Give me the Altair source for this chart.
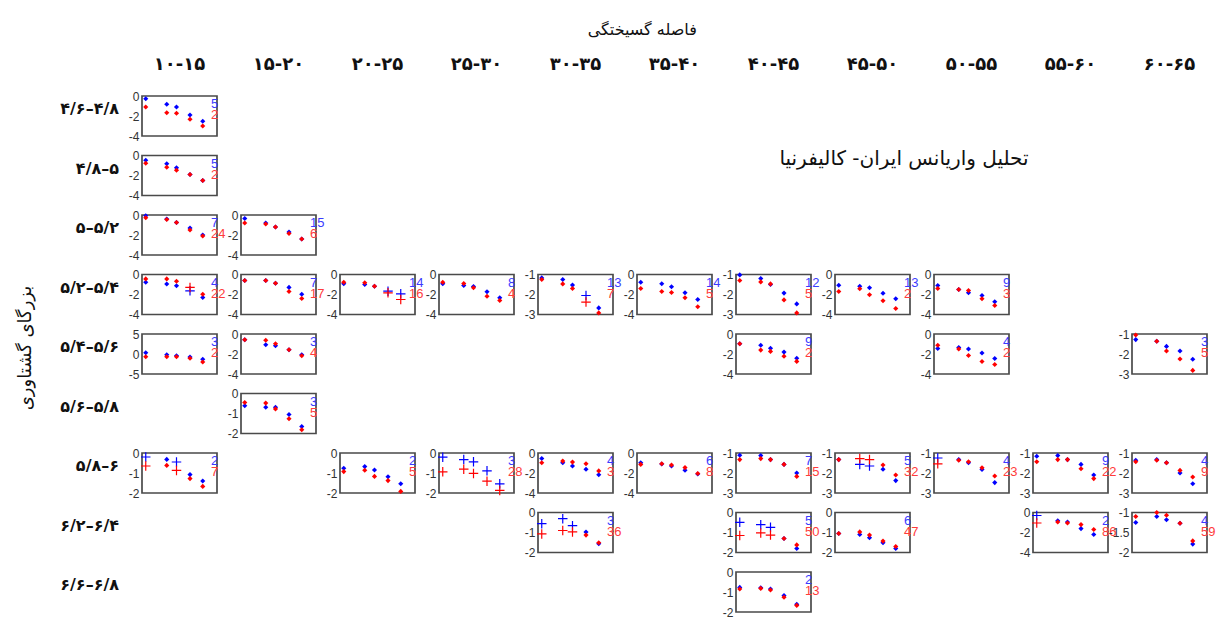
import altair as alt
import pandas as pd

# Rupture-distance bins (columns) and moment-magnitude bins (rows)
DIST_BINS = ["۱۰-۱۵", "۱۵-۲۰", "۲۰-۲۵", "۲۵-۳۰", "۳۰-۳۵", "۳۵-۴۰",
             "۴۰-۴۵", "۴۵-۵۰", "۵۰-۵۵", "۵۵-۶۰", "۶۰-۶۵"]
MAG_BINS = ["۴/۶–۴/۸", "۴/۸–۵", "۵–۵/۲", "۵/۲–۵/۴", "۵/۴–۵/۶",
            "۵/۶–۵/۸", "۵/۸–۶", "۶/۲–۶/۴", "۶/۶–۶/۸"]

# Position of the five spectral ordinates along each panel's x axis
PERIOD_X = [0.05, 0.33, 0.46, 0.64, 0.81]

# Which cell each panel occupies (row index, column index)
PANEL_MAG = [0, 1, 2, 2, 3, 3, 3, 3, 3, 3, 3, 3, 3,
             4, 4, 4, 4, 4, 5, 6, 6, 6, 6, 6, 6, 6, 6, 6, 6,
             7, 7, 7, 7, 7, 8]
PANEL_DIST = [0, 0, 0, 1, 0, 1, 2, 3, 4, 5, 6, 7, 8,
              0, 1, 6, 8, 10, 1, 0, 2, 3, 4, 5, 6, 7, 8, 9, 10,
              4, 6, 7, 9, 10, 6]

# Y-axis extent of every panel
Y_TOP = [0, 0, 0, 0, 0, 0, 0, 0, -1, 0, -1, 0, 0,
         5, 0, 0, 0, -1, 0, 0, 0, 0, 0, 0, -1, -1, -1, -1, -1,
         0, 0, 0, 0, -1, 0]
Y_BOTTOM = [-4, -4, -4, -4, -4, -4, -4, -4, -3, -4, -3, -4, -4,
            -5, -4, -4, -4, -3, -2, -2, -2, -2, -4, -4, -3, -3, -3, -3, -3,
            -2, -2, -2, -4, -2, -2]

# Record counts printed in each panel
N_IRAN = [5, 5, 7, 15, 4, 7, 14, 8, 13, 14, 12, 13, 9,
          3, 3, 9, 4, 3, 3, 2, 2, 3, 4, 6, 7, 5, 4, 9, 4,
          3, 5, 6, 2, 4, 2]
N_CALIF = [2, 2, 24, 6, 22, 17, 16, 4, 7, 5, 5, 2, 3,
           2, 4, 2, 2, 5, 5, 7, 5, 28, 3, 8, 15, 32, 23, 22, 9,
           36, 50, 47, 86, 59, 13]

# Iran series (blue), five values per panel
IRAN = [
    [-0.27, -0.83, -1.10, -1.90, -2.53],
    [-0.47, -0.83, -1.23, -1.90, -2.50],
    [-0.07, -0.40, -0.75, -1.30, -2.00],
    [-0.35, -0.80, -1.20, -1.70, -2.40],
    [-0.78, -0.95, -1.12, -1.63, -2.30],
    [-0.60, -0.60, -0.88, -1.29, -1.97],
    [-0.93, -1.00, -1.17, -1.67, -1.93],
    [-0.93, -1.10, -1.20, -1.73, -2.33],
    [-1.17, -1.25, -1.53, -2.05, -2.67],
    [-0.77, -0.93, -1.23, -1.83, -2.50],
    [-1.02, -1.20, -1.50, -1.93, -2.47],
    [-1.07, -1.17, -1.33, -1.87, -2.43],
    [-1.10, -1.50, -1.83, -2.10, -2.73],
    [0.33, -0.17, -0.42, -0.75, -1.33],
    [-0.57, -1.07, -1.17, -1.57, -2.07],
    [-0.97, -1.13, -1.42, -1.81, -2.42],
    [-1.45, -1.35, -1.50, -1.90, -2.45],
    [-1.28, -1.36, -1.62, -1.85, -2.26],
    [-0.61, -0.69, -0.69, -1.05, -1.65],
    [-0.20, -0.32, -0.45, -1.08, -1.40],
    [-0.76, -0.68, -0.85, -1.19, -1.54],
    [-0.21, -0.33, -0.44, -0.89, -1.54],
    [-0.55, -0.98, -1.30, -1.63, -2.18],
    [-0.98, -1.10, -1.30, -1.72, -2.10],
    [-1.11, -1.13, -1.33, -1.57, -2.00],
    [-1.33, -1.57, -1.65, -1.81, -2.38],
    [-1.25, -1.33, -1.49, -1.82, -2.48],
    [-1.16, -1.13, -1.33, -1.57, -2.10],
    [-1.36, -1.33, -1.49, -2.00, -2.54],
    [-0.56, -0.31, -0.66, -0.98, -1.56],
    [-0.49, -0.61, -0.74, -1.30, -1.80],
    [-1.05, -1.10, -1.26, -1.51, -1.80],
    [-0.30, -0.82, -0.95, -1.61, -2.20],
    [-1.25, -1.10, -1.18, -1.27, -1.79],
    [-0.77, -0.79, -0.85, -1.18, -1.61],
]

# California series (red), five values per panel
CALIF = [
    [-1.10, -1.67, -1.73, -2.33, -3.00],
    [-0.77, -1.17, -1.47, -1.90, -2.50],
    [-0.28, -0.45, -0.75, -1.50, -2.10],
    [-0.80, -0.90, -1.20, -1.85, -2.40],
    [-0.44, -0.44, -0.68, -1.29, -1.97],
    [-0.60, -0.60, -0.88, -1.70, -2.40],
    [-0.77, -0.83, -1.17, -1.83, -2.50],
    [-0.77, -0.90, -1.33, -2.17, -2.60],
    [-1.25, -1.47, -1.70, -2.38, -2.92],
    [-1.40, -1.70, -1.80, -2.33, -3.23],
    [-1.30, -1.37, -1.47, -2.27, -2.92],
    [-1.70, -1.43, -2.03, -2.63, -3.40],
    [-1.40, -1.50, -1.60, -2.43, -3.10],
    [-0.67, -0.67, -0.67, -1.08, -2.00],
    [-0.57, -0.63, -0.97, -1.57, -2.17],
    [-0.97, -1.61, -1.74, -2.23, -2.74],
    [-1.13, -1.50, -2.15, -2.75, -3.05],
    [-1.05, -1.36, -1.85, -2.25, -2.82],
    [-0.45, -0.48, -0.77, -1.26, -1.81],
    [-0.65, -0.62, -0.87, -1.28, -1.67],
    [-0.93, -0.86, -1.17, -1.38, -1.92],
    [-0.94, -0.81, -1.02, -1.41, -1.87],
    [-0.98, -0.81, -0.91, -1.08, -1.79],
    [-1.14, -1.07, -1.20, -1.46, -2.05],
    [-1.33, -1.28, -1.33, -1.57, -2.17],
    [-1.33, -1.28, -1.33, -1.60, -2.10],
    [-1.54, -1.36, -1.44, -1.74, -2.15],
    [-1.44, -1.33, -1.33, -1.79, -2.28],
    [-1.44, -1.36, -1.49, -1.87, -2.20],
    [-1.07, -0.90, -0.97, -1.13, -1.51],
    [-1.15, -1.02, -1.13, -1.30, -1.62],
    [-1.05, -0.97, -1.13, -1.43, -1.70],
    [-1.05, -0.95, -1.05, -1.21, -1.70],
    [-1.10, -1.00, -1.07, -1.27, -1.71],
    [-0.85, -0.82, -0.90, -1.26, -1.67],
]

# 1 where a pair of estimates is drawn with a "+" instead of a dot
CROSS = [
    [0, 0, 0, 0, 0], [0, 0, 0, 0, 0], [0, 0, 0, 0, 0], [0, 0, 0, 0, 0],
    [0, 0, 0, 1, 0], [0, 0, 0, 0, 0], [0, 0, 0, 1, 1], [0, 0, 0, 0, 0],
    [0, 0, 0, 1, 0], [0, 0, 0, 0, 0], [0, 0, 0, 0, 0], [0, 0, 0, 0, 0],
    [0, 0, 0, 0, 0],
    [0, 0, 0, 0, 0], [0, 0, 0, 0, 0], [0, 0, 0, 0, 0], [0, 0, 0, 0, 0],
    [0, 0, 0, 0, 0],
    [0, 0, 0, 0, 0],
    [1, 0, 1, 0, 0], [0, 0, 0, 0, 0], [1, 1, 1, 1, 1], [0, 0, 0, 0, 0],
    [0, 0, 0, 0, 0], [0, 0, 0, 0, 0], [0, 1, 1, 0, 0], [1, 0, 0, 0, 0],
    [0, 0, 0, 0, 0], [0, 0, 0, 0, 0],
    [1, 1, 1, 0, 0], [1, 1, 1, 0, 0], [0, 0, 0, 0, 0], [1, 0, 0, 0, 0],
    [0, 0, 0, 0, 0],
    [0, 0, 0, 0, 0],
]

PLOT_TITLE = "تحلیل واریانس ایران- کالیفرنیا"
ROW_TITLE = "بزرگای گشتاوری"
COL_TITLE = "فاصله گسیختگی"

W, H = 75, 40
BLUE, RED = "#0000ff", "#ff0000"
FA_FONT = "DejaVu Sans"
NUM_FONT = "Liberation Sans"

rows = []
# one placeholder per grid cell so that empty cells keep their place
for mag in MAG_BINS:
    for dist in DIST_BINS:
        rows.append(dict(kind="cell", mag=mag, dist=dist))
# magnitude labels sit to the left of the first column
for mag in MAG_BINS:
    rows.append(dict(kind="rowlab", mag=mag, dist=DIST_BINS[0], label=mag))
rows.append(dict(kind="rowtitle", mag=MAG_BINS[4], dist=DIST_BINS[0], label=ROW_TITLE))
for k in range(len(PANEL_MAG)):
    mag, dist = MAG_BINS[PANEL_MAG[k]], DIST_BINS[PANEL_DIST[k]]
    for series, vals in (("iran", IRAN[k]), ("calif", CALIF[k])):
        for i, v in enumerate(vals):
            rows.append(dict(kind="pt", mag=mag, dist=dist, x=PERIOD_X[i], y=v,
                             series=series,
                             marker="plus" if CROSS[k][i] else "dot"))
    rows.append(dict(kind="panel", mag=mag, dist=dist, top=Y_TOP[k],
                     bottom=Y_BOTTOM[k], n_iran=str(N_IRAN[k]),
                     n_calif=str(N_CALIF[k])))
rows.append(dict(kind="title", mag=MAG_BINS[1], dist=DIST_BINS[7], label=PLOT_TITLE))
df = pd.DataFrame(rows)

y_scale = alt.Scale(zero=False, nice=False)
y_axis = alt.Axis(tickCount=2, domain=False, ticks=False, grid=False, title=None,
                  labelFont=NUM_FONT, labelFontSize=12, labelColor="#333333",
                  labelPadding=3, labelFlush=False, labelOverlap=False,
                  labelExpr="'' + datum.value")
x_scale = alt.Scale(domain=[0, 1], nice=False, zero=False)
color = alt.Color("series:N", scale=alt.Scale(domain=["iran", "calif"], range=[BLUE, RED]),
                  legend=None)

frame = alt.Chart().transform_filter(alt.datum.kind == "panel").mark_rect(
    fillOpacity=0, stroke="#4a4a4a", strokeWidth=1.7
).encode(
    x=alt.value(0), x2=alt.value(W),
    y=alt.Y("top:Q", scale=y_scale, axis=y_axis), y2="bottom:Q",
)

dots = alt.Chart().transform_filter(
    (alt.datum.kind == "pt") & (alt.datum.marker == "dot")
).mark_point(shape="diamond", filled=True, size=26, opacity=1).encode(
    x=alt.X("x:Q", scale=x_scale, axis=None),
    y=alt.Y("y:Q", scale=y_scale, axis=y_axis),
    color=color,
)

pluses = alt.Chart().transform_filter(
    (alt.datum.kind == "pt") & (alt.datum.marker == "plus")
).mark_point(shape="M-1,0H1M0,-1V1", filled=False, size=90, strokeWidth=1.2,
             opacity=1).encode(
    x=alt.X("x:Q", scale=x_scale, axis=None),
    y=alt.Y("y:Q", scale=y_scale, axis=y_axis),
    color=color,
)

n_iran = alt.Chart().transform_filter(alt.datum.kind == "panel").mark_text(
    align="left", baseline="middle", font=NUM_FONT, fontSize=13, color="#3b3bff"
).encode(x=alt.value(W - 6), y=alt.value(8), text="n_iran:N")

n_calif = alt.Chart().transform_filter(alt.datum.kind == "panel").mark_text(
    align="left", baseline="middle", font=NUM_FONT, fontSize=13, color="#ff3b3b"
).encode(x=alt.value(W - 6), y=alt.value(19), text="n_calif:N")

title_txt = alt.Chart().transform_filter(alt.datum.kind == "title").mark_text(
    align="center", baseline="middle", font=FA_FONT, fontSize=20, color="#111111"
).encode(x=alt.value(69), y=alt.value(3), text="label:N")

row_labels = alt.Chart().transform_filter(alt.datum.kind == "rowlab").mark_text(
    align="right", baseline="middle", font=FA_FONT, fontSize=16, fontWeight="bold",
    color="#111111"
).encode(x=alt.value(-23), y=alt.value(13), text="label:N")

row_title = alt.Chart().transform_filter(alt.datum.kind == "rowtitle").mark_text(
    align="center", baseline="middle", font=FA_FONT, fontSize=18, angle=270,
    color="#111111"
).encode(x=alt.value(-116), y=alt.value(14), text="label:N")

layered = alt.layer(frame, dots, pluses, n_iran, n_calif, title_txt, row_labels,
                    row_title, data=df).properties(width=W, height=H)

chart = layered.facet(
    row=alt.Row("mag:N", sort=MAG_BINS, title=None,
                header=alt.Header(labels=False)),
    column=alt.Column("dist:N", sort=DIST_BINS, title=None,
                      header=alt.Header(labelFont=FA_FONT, labelFontSize=18,
                                        labelFontWeight="bold", labelColor="#111111",
                                        labelPadding=22)),
    spacing={"row": 19.5, "column": 24},
    bounds="flush",
).resolve_scale(y="independent").configure_view(stroke=None).properties(
    title=alt.TitleParams(COL_TITLE, font=FA_FONT, fontSize=16, fontWeight="normal",
                          color="#111111", anchor="middle", frame="bounds",
                          dx=26, offset=18),
    padding={"top": 22, "left": 17, "right": 0, "bottom": 0},
    background="white",
)

chart.save("out.html", embed_options={"renderer": "svg", "actions": False})
